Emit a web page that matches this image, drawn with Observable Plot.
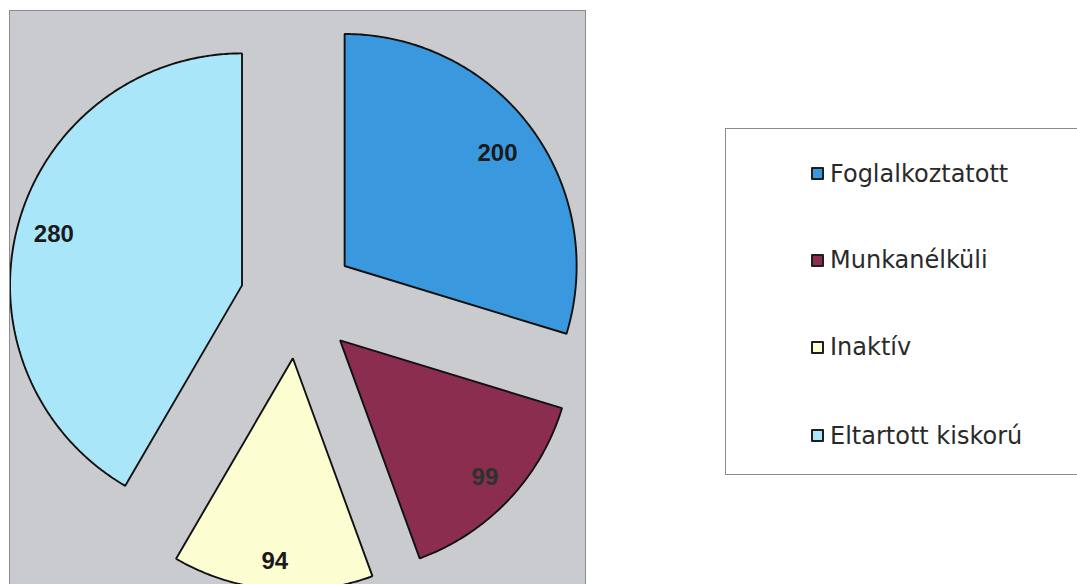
<!DOCTYPE html>
<html>
<head>
<meta charset="utf-8">
<script src="https://cdn.jsdelivr.net/npm/d3@7"></script>
<script src="https://cdn.jsdelivr.net/npm/@observablehq/plot@0.6"></script>
<style>
  html, body { margin: 0; padding: 0; background: #ffffff; width: 1077px; height: 584px; overflow: hidden; }
  #panel { position: absolute; left: 9px; top: 10px; width: 575px; height: 580px;
           border: 1px solid #8c8c8c; background: #c9cbce; overflow: hidden; }
  #panel svg { background: transparent; overflow: hidden; display: block; }
  #legend { position: absolute; left: 725px; top: 128px; width: 400px; height: 347px;
            border: 1px solid #8a8a8a; background: #ffffff; box-sizing: border-box; }
  .item { position: absolute; left: 85px; display: flex; align-items: center; height: 28px;
          font-family: "DejaVu Sans", sans-serif; font-size: 24px; line-height: 28px;
          color: #2a2a2a; white-space: nowrap; }
  .sw { width: 9px; height: 9px; border: 2px solid #1e1e1e; border-radius: 1px; margin-right: 6px; flex: none; }
</style>
</head>
<body>
<div id="panel"></div>
<div id="legend"></div>
<script>
// Data
const categories = ["Foglalkoztatott", "Munkanélküli", "Inaktív", "Eltartott kiskorú"];
const values = [200, 99, 94, 280];
const colors = ["#3a98df", "#8a2d4f", "#fdfdd2", "#aae6f9"];

// Layout constants (unit circle radius = 1)
const explode = 0.25;
const labelRadii = [0.82, 0.86, 0.88, 0.84];

const pie = d3.pie().sort(null).value(d => d)(values);

const slices = pie.map((p, i) => {
  const mid = (p.startAngle + p.endAngle) / 2;
  const ax = explode * Math.sin(mid), ay = explode * Math.cos(mid);
  const pts = [{x: ax, y: ay}];
  const n = Math.max(8, Math.ceil((p.endAngle - p.startAngle) / 0.01));
  for (let k = 0; k <= n; k++) {
    const a = p.startAngle + (p.endAngle - p.startAngle) * k / n;
    pts.push({x: ax + Math.sin(a), y: ay + Math.cos(a)});
  }
  const lr = labelRadii[i];
  return {name: categories[i], value: values[i], color: colors[i], pts,
          lx: ax + lr * Math.sin(mid), ly: ay + lr * Math.cos(mid)};
});

const W = 575, H = 580;
const cx = 287.5, cy = 289, R = 232;

const marks = slices.map(s => Plot.line(s.pts, {
  x: "x", y: "y", fill: s.color, stroke: "#111", strokeWidth: 1.9,
  curve: "linear-closed", strokeLinejoin: "miter"
}));
marks.push(Plot.text(slices, {
  x: "lx", y: "ly", text: d => String(d.value),
  fontSize: 24, fontWeight: "bold", fill: d => d.name === "Munkanélküli" ? "#2b3330" : "#1a1a1a",
  fontFamily: "Liberation Sans, Arial, sans-serif"
}));

const chart = Plot.plot({
  width: W, height: H,
  margin: 0,
  x: {domain: [-cx / R, (W - cx) / R], range: [0, W], axis: null},
  y: {domain: [(cy - H) / R, cy / R], range: [H, 0], axis: null},
  style: {background: "transparent", overflow: "hidden"},
  marks
});
document.getElementById("panel").appendChild(chart);

// Legend
const legend = document.getElementById("legend");
const rowTops = [30.7, 117.1, 204.4, 292.9];
categories.forEach((c, i) => {
  const it = document.createElement("div");
  it.className = "item";
  it.style.top = rowTops[i] + "px";
  it.innerHTML = `<span class="sw" style="background:${colors[i]}"></span><span>${c}</span>`;
  legend.appendChild(it);
});
</script>
</body>
</html>
